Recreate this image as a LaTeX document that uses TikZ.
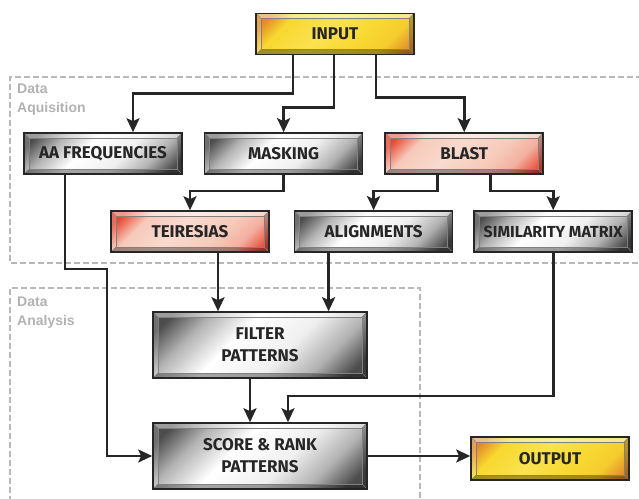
\documentclass[tikz,border=0pt]{standalone}
\usepackage{fontspec}
\setmainfont{Liberation Sans}
\newfontfamily\boxfont{Fira Sans}
\usetikzlibrary{arrows.meta, positioning, shadings}

\definecolor{goldmid}{RGB}{248,216,48}
\definecolor{goldlight}{RGB}{250,226,80}
\definecolor{goldedge}{RGB}{226,138,40}
\definecolor{salmonmid}{RGB}{246,202,186}
\definecolor{salmonedge}{RGB}{232,72,52}

% shadings for the bevelled boxes
\pgfdeclarehorizontalshading{metal}{100bp}{color(0bp)=(black!70); color(20bp)=(black!70); color(30bp)=(black!30); color(42bp)=(white); color(58bp)=(black!6); color(70bp)=(black!30); color(80bp)=(black!70); color(100bp)=(black!70)}
\pgfdeclarehorizontalshading{gold}{100bp}{color(0bp)=(goldedge); color(20bp)=(goldedge); color(29bp)=(goldmid); color(45bp)=(goldlight); color(62bp)=(goldmid); color(72bp)=(goldmid!85!goldedge); color(82bp)=(goldedge); color(100bp)=(goldedge)}
\pgfdeclarehorizontalshading{salmon}{100bp}{color(0bp)=(salmonedge); color(20bp)=(salmonedge); color(30bp)=(salmonmid); color(45bp)=(salmonmid!70!white); color(62bp)=(salmonmid); color(72bp)=(salmonmid!80!salmonedge); color(82bp)=(salmonedge); color(100bp)=(salmonedge)}

\newcommand{\bevelparts}{%
  \coordinate (bNW) at (path picture bounding box.north west);
  \coordinate (bNE) at (path picture bounding box.north east);
  \coordinate (bSW) at (path picture bounding box.south west);
  \coordinate (bSE) at (path picture bounding box.south east);
  \coordinate (iNW) at ([shift={(5pt,-5pt)}]bNW);
  \coordinate (iNE) at ([shift={(-5pt,-5pt)}]bNE);
  \coordinate (iSW) at ([shift={(5pt,5pt)}]bSW);
  \coordinate (iSE) at ([shift={(-5pt,5pt)}]bSE);
  \fill[white, opacity=.45] (bNW) -- (bNE) -- (iNE) -- (iNW) -- cycle;
  \fill[white, opacity=.2] (bNW) -- (iNW) -- (iSW) -- (bSW) -- cycle;
  \fill[black, opacity=.35] (bSW) -- (iSW) -- (iSE) -- (bSE) -- cycle;
  \fill[black, opacity=.25] (bNE) -- (bSE) -- (iSE) -- (iNE) -- cycle;
  \draw[black!50, line width=.5pt] (iNW) rectangle (iSE);
  \draw[black!50, line width=.5pt] (bNW) -- (iNW) (bNE) -- (iNE) (bSW) -- (iSW) (bSE) -- (iSE);
}

\begin{document}
\begin{tikzpicture}[
        x=1pt, y=-1pt,
        bevel/.style={draw=black!85, line width=1.6pt, align=center, minimum width=158pt, minimum height=41pt,
            inner sep=0pt, font=\boxfont\bfseries\fontsize{17}{22}\selectfont, text=black!85,
            shade, shading angle=-45, path picture={\bevelparts}},
        metalbox/.style={bevel, shading=metal},
        goldbox/.style={bevel, shading=gold},
        redbox/.style={bevel, shading=salmon},
        bigbox/.style={metalbox, minimum width=214pt, minimum height=66pt},
        arrow/.style={-{Stealth[length=14pt, width=13pt, inset=3pt]}, line width=2.6pt, black!85},
        group/.style={draw=black!28, dash pattern=on 6pt off 3pt, line width=2pt},
        grouplabel/.style={align=left, anchor=north west, inner sep=0pt, text=black!30,
            font=\bfseries\fontsize{14}{19}\selectfont}
    ]
        \useasboundingbox (0,0) rectangle (639,498);
        \clip (0,0) rectangle (639,498);

        % Dashed groups
        \draw[group] (660,77) -- (10,77) -- (10,263) -- (660,263);
        \draw[group] (10,520) -- (10,288) -- (420,288) -- (420,520);
        \node[grouplabel] (acqlabel) at (17,84) {Data\\Aquisition};
        \node[grouplabel] (analabel) at (17,297) {Data\\Analysis};

        % Boxes
        \node[goldbox] (input) at (335,34) {INPUT};
        \node[metalbox] (aafreq) at (103,153.5) {AA FREQUENCIES};
        \node[metalbox, right=21pt of aafreq] (masking) {MASKING};
        \node[redbox, right=21pt of masking] (blast) {BLAST};
        \node[redbox] (teiresias) at (190,231.5) {TEIRESIAS};
        \node[metalbox, right=24pt of teiresias] (alignments) {ALIGNMENTS};
        \node[metalbox, right=20pt of alignments, font=\boxfont\bfseries\fontsize{16}{19}\selectfont] (simmatrix) {SIMILARITY MATRIX};
        \node[bigbox] (filter) at (260,345) {FILTER\\PATTERNS};
        \node[bigbox] (score) at (260,456) {SCORE \& RANK\\PATTERNS};
        \node[goldbox, minimum height=43pt] (output) at (550,458.5) {OUTPUT};

        % Acquisition arrows
        \draw[arrow] ([xshift=-42pt]input.south) -- ++(0,38) -| ([xshift=30pt]aafreq.north);
        \draw[arrow] ([xshift=-1pt]input.south) -- ++(0,52) -| (masking.north);
        \draw[arrow] ([xshift=41pt]input.south) -- ++(0,42) -| (blast.north);
        \draw[arrow] (masking.south) -- ++(0,16) -| (teiresias.north);
        \draw[arrow] ([xshift=-27pt]blast.south) -- ++(0,16) -| (alignments.north);
        \draw[arrow] ([xshift=26pt]blast.south) -- ++(0,16) -| (simmatrix.north);

        % Analysis arrows
        \draw[arrow] ([xshift=-38pt]aafreq.south) |- ++(42,94) |- (score.west);
        \draw[arrow] ([xshift=28pt]teiresias.south) -- ([xshift=28pt]teiresias.south |- filter.north);
        \draw[arrow] ([xshift=-45pt]alignments.south) -- ([xshift=-45pt]alignments.south |- filter.north);
        \draw[arrow] ([xshift=-10pt]filter.south) -- ([xshift=-10pt]score.north);
        \draw[arrow] (simmatrix.south) -- ++(0,143) -| ([xshift=28pt]score.north);
        \draw[arrow] (score.east) -- (score.east -| output.west);

    \end{tikzpicture}
\end{document}
